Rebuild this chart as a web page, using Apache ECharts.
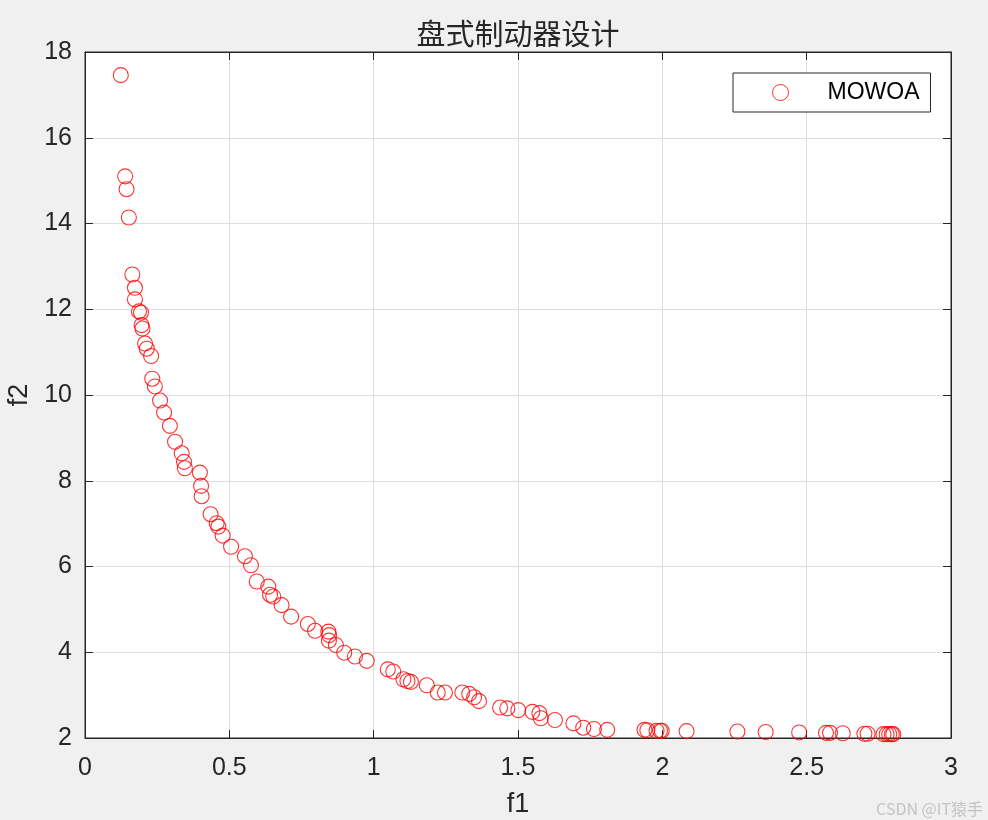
<!DOCTYPE html>
<html>
<head>
<meta charset="utf-8">
<script src="https://cdn.jsdelivr.net/npm/echarts@6/dist/echarts.min.js"></script>
<style>
html,body{margin:0;padding:0;background:#f0f0f0;}
#c{width:988px;height:820px;}
</style>
</head>
<body>
<div id="c"></div>
<script>
var titleText = '盘式制动器设计';
var seriesName = 'MOWOA';
var xName = 'f1';
var yName = 'f2';
var f1 = [0.124,0.139,0.144,0.152,0.164,0.173,0.173,0.187,0.194,0.196,0.199,0.208,0.214,0.229,0.233,0.242,0.260,0.274,0.294,0.312,0.335,0.343,0.346,0.398,0.402,0.404,0.435,0.456,0.462,0.477,0.506,0.554,0.575,0.595,0.635,0.641,0.652,0.681,0.714,0.772,0.797,0.843,0.846,0.845,0.869,0.898,0.935,0.976,1.049,1.068,1.103,1.117,1.129,1.184,1.222,1.247,1.307,1.331,1.348,1.365,1.438,1.463,1.501,1.550,1.574,1.579,1.628,1.692,1.726,1.763,1.809,1.938,1.948,1.980,1.992,1.998,2.084,2.260,2.358,2.474,2.567,2.581,2.625,2.700,2.711,2.766,2.777,2.786,2.795,2.800];
var f2 = [17.46,15.10,14.80,14.14,12.81,12.50,12.23,11.95,11.92,11.63,11.55,11.20,11.08,10.91,10.38,10.20,9.87,9.59,9.28,8.91,8.64,8.44,8.29,8.19,7.88,7.64,7.22,7.01,6.93,6.72,6.46,6.24,6.03,5.65,5.53,5.34,5.30,5.10,4.83,4.66,4.50,4.48,4.40,4.27,4.17,3.99,3.90,3.80,3.60,3.55,3.37,3.33,3.31,3.23,3.06,3.06,3.06,3.03,2.95,2.86,2.71,2.69,2.65,2.61,2.58,2.46,2.42,2.34,2.24,2.21,2.19,2.19,2.18,2.17,2.17,2.17,2.16,2.15,2.14,2.13,2.12,2.12,2.11,2.10,2.10,2.09,2.09,2.09,2.09,2.09];
var xTicks = [0,0.5,1,1.5,2,2.5,3];
var yTicks = [2,4,6,8,10,12,14,16,18];

var points = f1.map(function(v,i){return [v,f2[i]];});
var txt = '#262626';
var font = 'Liberation Sans, Arial, sans-serif';
var chart = echarts.init(document.getElementById('c'));
function fmt(v){return String(v);}
var lineC = '#262626';
function axisCommon(){
  return {
    axisLine:{show:true,onZero:false,lineStyle:{color:lineC,width:1}},
    axisTick:{show:true,inside:true,length:8,lineStyle:{color:lineC}}
  };
}
var xb = Object.assign(axisCommon(),{type:'value',min:xTicks[0],max:xTicks[xTicks.length-1],interval:xTicks[1]-xTicks[0],position:'bottom',
    name:xName,nameLocation:'middle',nameGap:53,nameTextStyle:{fontFamily:font,fontSize:27,color:txt},
    axisLabel:{fontFamily:font,fontSize:25,color:txt,margin:18,formatter:fmt},
    splitLine:{show:true,lineStyle:{color:'#dedede',width:1}}});
var xt = Object.assign(axisCommon(),{type:'value',min:xTicks[0],max:xTicks[xTicks.length-1],interval:xTicks[1]-xTicks[0],position:'top',
    axisLabel:{show:false},splitLine:{show:false}});
var yl = Object.assign(axisCommon(),{type:'value',min:yTicks[0],max:yTicks[yTicks.length-1],interval:yTicks[1]-yTicks[0],position:'left',
    name:yName,nameLocation:'middle',nameGap:52,nameTextStyle:{fontFamily:font,fontSize:27,color:txt},
    axisLabel:{fontFamily:font,fontSize:25,color:txt,margin:13,formatter:fmt},
    splitLine:{show:true,lineStyle:{color:'#dedede',width:1}}});
var yr = Object.assign(axisCommon(),{type:'value',min:yTicks[0],max:yTicks[yTicks.length-1],interval:yTicks[1]-yTicks[0],position:'right',
    axisLabel:{show:false},splitLine:{show:false}});
chart.setOption({
  backgroundColor:'#f0f0f0',
  animation:false,
  title:{text:titleText,left:513,textAlign:'center',top:14,
    textStyle:{fontFamily:'Noto Sans CJK SC',fontSize:29,fontWeight:'normal',color:txt}},
  grid:{left:85,top:52,width:866,height:686,outerBoundsMode:'none',containLabel:false,show:true,backgroundColor:'#ffffff',borderColor:lineC,borderWidth:1},
  legend:{left:733,top:73,padding:[8,11,8,39],
    backgroundColor:'#ffffff',borderColor:lineC,borderWidth:1,
    itemWidth:16,itemHeight:16,
    data:[{name:seriesName,icon:'circle',itemStyle:{color:'rgba(0,0,0,0)',borderColor:'#ff0000',borderWidth:1}}],
    formatter:function(n){return '{a|'+n+'}';},
    textStyle:{rich:{a:{fontFamily:font,fontSize:23,color:'#000',padding:[0,0,0,34]}}}},
  xAxis:[xb,xt],
  yAxis:[yl,yr],
  graphic:[{type:'text',right:5,bottom:3,style:{text:'CSDN @IT猿手',fontFamily:'Noto Sans CJK SC',fontSize:16,fill:'#c4c4c4'}}],
  series:[{name:seriesName,type:'scatter',xAxisIndex:0,yAxisIndex:0,data:points,
    symbol:'circle',symbolSize:15,
    itemStyle:{color:'rgba(0,0,0,0)',borderColor:'#ff0000',borderWidth:1.1}}]
});
</script>
</body>
</html>
